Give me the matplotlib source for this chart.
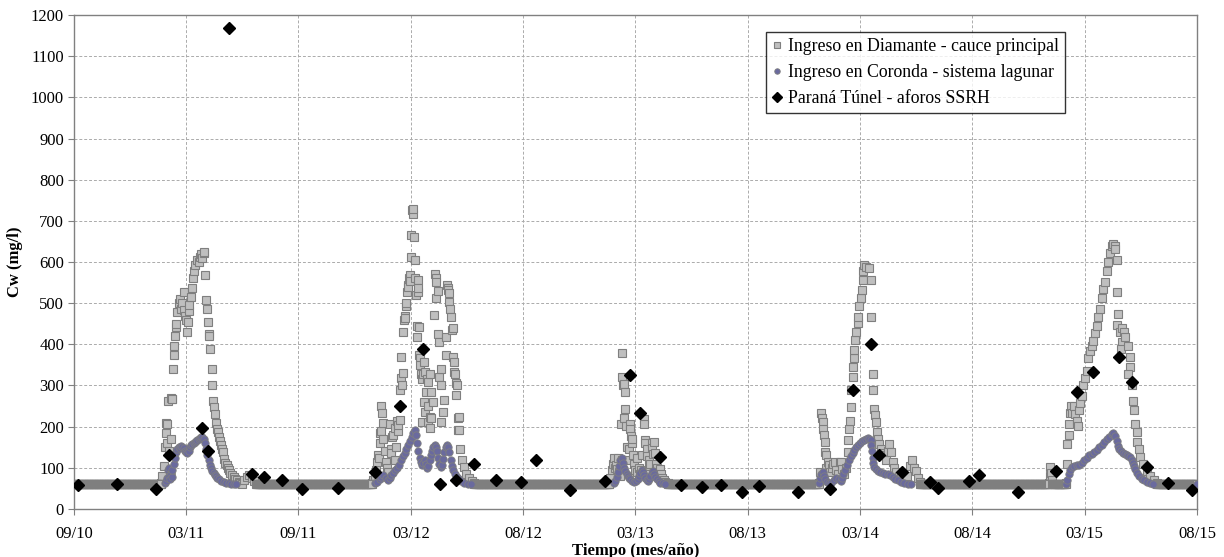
import numpy as np
import matplotlib
matplotlib.use("Agg")
import matplotlib.pyplot as plt

# Eje x en dias desde 09/10; cada marca del eje = 180 dias
etiquetas_x = ["09/10", "03/11", "09/11", "03/12", "08/12", "03/13",
               "08/13", "03/14", "08/14", "03/15", "08/15"]
paso_dias = 180

# Nivel base (mg/l) de Diamante fuera de las crecidas
base_cw = 60
base_tramos = [(0, 140), (292, 478), (642, 858), (952, 1194),
               (1356, 1562), (1568, 1590), (1736, 1800)]

# Ingreso en Diamante - cauce principal (dia, Cw)
diamante_2011 = [(140, 62), (142, 80), (144, 105), (146, 150), (147, 210), (148, 185), (149, 207),
                 (150, 160), (151, 263), (153, 140), (155, 170), (156, 270), (157, 266), (158, 268),
                 (159, 340), (160, 374), (161, 397), (162, 420), (163, 442), (164, 450), (166, 479),
                 (168, 500), (170, 511), (172, 487), (174, 500), (176, 483), (177, 528), (178, 470),
                 (180, 458), (182, 430), (183, 454), (184, 480), (185, 495), (187, 516), (189, 536),
                 (191, 560), (193, 577), (195, 593), (198, 605), (200, 600), (202, 613), (204, 620),
                 (206, 609), (208, 622), (209, 625), (211, 568), (212, 507), (214, 487), (215, 454),
                 (216, 425), (217, 421), (219, 389), (221, 339), (222, 300), (223, 263), (224, 247),
                 (226, 231), (228, 210), (229, 195), (231, 187), (233, 175), (234, 165), (236, 155),
                 (238, 145), (239, 138), (241, 122), (243, 112), (245, 106), (247, 100), (249, 94),
                 (251, 88), (253, 82), (256, 77), (259, 74), (262, 70), (264, 66), (267, 63),
                 (270, 61), (273, 70), (277, 78), (281, 82), (285, 76), (289, 68)]
diamante_2012 = [(478, 62), (480, 70), (482, 80), (484, 95), (486, 115), (488, 130), (489, 125),
                 (490, 160), (491, 185), (492, 190), (493, 250), (494, 232), (495, 210), (496, 170),
                 (498, 140), (500, 115), (502, 100), (504, 90), (506, 206), (508, 145), (509, 136),
                 (510, 175), (512, 180), (514, 120), (515, 197), (516, 150), (518, 214), (519, 190),
                 (520, 205), (522, 215), (523, 288), (524, 318), (525, 370), (526, 300), (527, 330),
                 (528, 431), (529, 460), (530, 470), (531, 465), (532, 492), (533, 500), (534, 526),
                 (535, 544), (536, 540), (537, 561), (538, 568), (539, 555), (540, 613), (541, 665),
                 (542, 726), (543, 717), (544, 730), (545, 661), (546, 605), (547, 560), (548, 520),
                 (550, 444), (550, 418), (551, 528), (551, 556), (552, 536), (553, 443), (553, 374),
                 (555, 366), (555, 349), (557, 329), (558, 317), (558, 212), (560, 327), (561, 357),
                 (561, 260), (562, 236), (563, 333), (564, 284), (566, 317), (567, 249), (568, 309),
                 (568, 212), (570, 223), (571, 329), (571, 196), (573, 285), (573, 220), (575, 260),
                 (577, 471), (579, 570), (580, 513), (581, 561), (581, 552), (583, 529), (584, 426),
                 (586, 406), (586, 321), (588, 341), (589, 301), (589, 212), (591, 236), (594, 264),
                 (596, 418), (596, 374), (598, 544), (599, 536), (600, 531), (601, 504), (602, 524),
                 (603, 487), (604, 467), (606, 435), (607, 370), (608, 440), (609, 357), (609, 333),
                 (611, 327), (612, 305), (613, 277), (614, 301), (615, 220), (615, 192), (617, 223),
                 (618, 193), (619, 145), (622, 119), (625, 101), (629, 84), (633, 75), (638, 67),
                 (642, 62)]
diamante_2013 = [(858, 62), (860, 75), (862, 95), (864, 110), (866, 123), (868, 100), (869, 108),
                 (871, 96), (872, 124), (874, 90), (875, 80), (877, 206), (878, 119), (879, 380),
                 (879, 320), (880, 300), (881, 222), (882, 304), (883, 243), (884, 284), (885, 202),
                 (887, 150), (888, 120), (890, 145), (891, 206), (892, 194), (893, 178), (894, 161),
                 (895, 169), (896, 130), (898, 110), (900, 95), (902, 90), (903, 124), (905, 100),
                 (907, 85), (909, 95), (911, 130), (913, 218), (914, 206), (915, 167), (916, 161),
                 (918, 145), (919, 129), (921, 120), (922, 104), (924, 110), (926, 161), (927, 149),
                 (928, 133), (930, 162), (931, 136), (933, 110), (935, 100), (937, 90), (939, 96),
                 (941, 84), (943, 76), (945, 71), (948, 66), (952, 62)]
diamante_2014 = [(1194, 62), (1196, 90), (1198, 232), (1199, 220), (1200, 211), (1201, 195),
                 (1202, 179), (1203, 163), (1204, 138), (1205, 130), (1206, 100), (1208, 114),
                 (1210, 106), (1212, 90), (1215, 100), (1217, 110), (1219, 114), (1222, 95),
                 (1225, 85), (1228, 114), (1229, 115), (1231, 98), (1234, 85), (1237, 100),
                 (1240, 138), (1241, 167), (1242, 195), (1244, 213), (1245, 248), (1246, 290),
                 (1248, 321), (1249, 346), (1250, 366), (1251, 386), (1252, 411), (1254, 431),
                 (1256, 451), (1257, 467), (1259, 492), (1261, 512), (1263, 533), (1264, 557),
                 (1265, 577), (1267, 593), (1270, 589), (1274, 585), (1277, 557), (1278, 467),
                 (1280, 329), (1281, 289), (1282, 244), (1284, 228), (1285, 211), (1287, 187),
                 (1288, 171), (1291, 159), (1294, 146), (1297, 135), (1299, 130), (1302, 120),
                 (1305, 140), (1307, 159), (1309, 138), (1312, 114), (1315, 100), (1318, 90),
                 (1322, 80), (1326, 75), (1330, 70), (1335, 80), (1340, 105), (1343, 119),
                 (1346, 100), (1349, 93), (1352, 75), (1356, 65)]
diamante_2015 = [(1562, 62), (1564, 80), (1565, 101), (1566, 88), (1568, 70), (1590, 62),
                 (1591, 110), (1592, 158), (1594, 180), (1595, 206), (1597, 232), (1598, 249),
                 (1600, 232), (1603, 249), (1605, 230), (1607, 214), (1609, 201), (1611, 240),
                 (1613, 258), (1616, 275), (1618, 301), (1621, 318), (1623, 336), (1626, 366),
                 (1628, 383), (1631, 396), (1634, 409), (1636, 427), (1639, 444), (1642, 466),
                 (1645, 487), (1648, 513), (1650, 535), (1653, 552), (1656, 578), (1658, 600),
                 (1661, 622), (1664, 639), (1666, 644), (1668, 640), (1669, 631), (1671, 604),
                 (1672, 526), (1674, 474), (1672, 448), (1676, 431), (1680, 440), (1683, 431),
                 (1680, 405), (1685, 418), (1678, 388), (1690, 396), (1692, 370), (1692, 344),
                 (1690, 327), (1696, 301), (1698, 262), (1699, 240), (1701, 206), (1703, 188),
                 (1704, 162), (1707, 145), (1709, 127), (1714, 110), (1720, 93), (1725, 80),
                 (1731, 71), (1736, 64)]

# Ingreso en Coronda - sistema lagunar (dia, Cw)
coronda_2011 = [(146, 62), (148, 68), (150, 75), (151, 95), (152, 80), (153, 100), (154, 72),
                (155, 88), (156, 85), (157, 78), (158, 95), (160, 110), (162, 125), (164, 138),
                (166, 145), (168, 150), (170, 148), (172, 152), (174, 150), (176, 148), (178, 140),
                (180, 138), (182, 135), (184, 142), (186, 150), (188, 155), (190, 158), (192, 160),
                (194, 163), (196, 166), (198, 168), (200, 170), (202, 172), (204, 174), (206, 175),
                (208, 170), (210, 160), (212, 145), (214, 130), (216, 118), (218, 108), (220, 100),
                (222, 93), (224, 88), (226, 83), (228, 79), (230, 76), (233, 72), (236, 69),
                (240, 66), (244, 64), (248, 62), (252, 61), (256, 60), (260, 60)]
coronda_2012 = [(482, 62), (486, 66), (490, 72), (493, 78), (496, 82), (500, 76), (503, 70),
                (506, 75), (509, 82), (512, 88), (515, 95), (518, 100), (521, 108), (524, 118),
                (527, 128), (530, 137), (533, 146), (536, 155), (539, 165), (542, 175), (544, 185),
                (546, 193), (548, 180), (550, 160), (552, 140), (554, 125), (556, 115), (558, 108),
                (560, 112), (562, 120), (564, 110), (566, 100), (568, 105), (570, 118), (572, 130),
                (574, 142), (576, 150), (578, 155), (580, 150), (582, 140), (584, 125), (586, 110),
                (588, 102), (590, 108), (592, 122), (594, 138), (596, 150), (598, 155), (600, 150),
                (602, 138), (604, 120), (606, 105), (608, 95), (611, 85), (614, 78), (617, 72),
                (621, 67), (626, 63), (631, 61), (637, 60)]
coronda_2013 = [(866, 62), (868, 68), (870, 78), (872, 90), (874, 105), (876, 118), (878, 125),
                (880, 112), (882, 100), (884, 92), (886, 86), (888, 80), (890, 76), (892, 72),
                (895, 68), (898, 66), (901, 68), (904, 72), (906, 80), (908, 88), (910, 94),
                (912, 90), (914, 82), (916, 75), (918, 70), (920, 68), (922, 72), (924, 80),
                (926, 90), (928, 93), (930, 85), (932, 78), (934, 72), (937, 67), (940, 64),
                (944, 62), (948, 60)]
coronda_2014 = [(1194, 62), (1196, 75), (1198, 84), (1200, 90), (1202, 80), (1204, 72), (1207, 66),
                (1210, 62), (1214, 64), (1218, 70), (1222, 75), (1226, 72), (1229, 68), (1231, 75),
                (1233, 84), (1236, 95), (1239, 108), (1242, 118), (1245, 128), (1248, 136),
                (1251, 144), (1254, 150), (1257, 156), (1260, 161), (1263, 165), (1266, 168),
                (1269, 171), (1272, 172), (1275, 170), (1277, 167), (1278, 155), (1279, 140),
                (1280, 125), (1281, 112), (1283, 103), (1286, 96), (1289, 92), (1292, 90),
                (1296, 87), (1300, 85), (1304, 84), (1308, 82), (1312, 78), (1316, 74), (1320, 70),
                (1325, 66), (1330, 63), (1336, 61), (1342, 60)]
coronda_2015 = [(1590, 60), (1592, 70), (1594, 84), (1597, 95), (1600, 101), (1603, 104),
                (1607, 106), (1611, 108), (1615, 112), (1619, 118), (1623, 125), (1627, 130),
                (1631, 133), (1635, 138), (1639, 144), (1643, 150), (1647, 156), (1651, 163),
                (1655, 170), (1659, 176), (1663, 182), (1666, 185), (1669, 178), (1671, 165),
                (1673, 152), (1675, 145), (1678, 140), (1681, 136), (1684, 133), (1687, 130),
                (1690, 128), (1693, 126), (1695, 120), (1697, 112), (1699, 104), (1701, 96),
                (1704, 88), (1707, 80), (1711, 74), (1715, 70), (1720, 66), (1725, 62),
                (1730, 60), (1800, 60)]

# Parana Tunel - aforos SSRH
tunel_dias = [7, 69, 131, 152, 205, 215, 249, 285, 304, 333, 366, 424, 483, 523, 559, 587,
              612, 642, 676, 717, 740, 795, 851, 892, 907, 939, 973, 1007, 1037, 1071, 1098,
              1160, 1211, 1249, 1278, 1291, 1327, 1372, 1385, 1435, 1451, 1513, 1574, 1608,
              1633, 1675, 1696, 1720, 1754, 1792]
tunel_cw = [58, 60, 49, 132, 197, 140, 1168, 86, 78, 71, 49, 51, 91, 249, 388, 60,
            71, 110, 71, 65, 119, 45, 67, 325, 233, 127, 58, 53, 58, 42, 56,
            42, 49, 290, 401, 132, 91, 65, 52, 67, 82, 41, 93, 284, 334,
            369, 308, 103, 62, 45]


def juntar(eventos, con_base=False):
    pares = []
    for ev in eventos:
        pares += ev
    x = [p[0] for p in pares]
    y = [p[1] for p in pares]
    if con_base:
        # tramos sin crecida: registro diario en el nivel base
        for a, b in base_tramos:
            dias = np.arange(a, b + 1, 1)
            x += list(dias)
            y += [base_cw] * len(dias)
    return np.array(x), np.array(y)


plt.rcParams['font.family'] = ['Liberation Serif', 'DejaVu Serif']

fig = plt.figure(figsize=(12.24, 5.57), dpi=100)
ax = fig.add_axes([0.0603, 0.0862, 0.9177, 0.8868])

xd, yd = juntar([diamante_2011, diamante_2012, diamante_2013, diamante_2014, diamante_2015], True)
xc, yc = juntar([coronda_2011, coronda_2012, coronda_2013, coronda_2014, coronda_2015])

ax.plot(xd, yd, ls='none', marker='s', ms=5.8, mfc='#BFBFBF', mec='#7F7F7F', mew=0.8,
        label='Ingreso en Diamante - cauce principal', zorder=3)
ax.plot(xc, yc, ls='none', marker='o', ms=5.3, mfc='#6A6A9E', mec='#7F7F7F', mew=0.6,
        label='Ingreso en Coronda - sistema lagunar', zorder=4)
ax.plot(tunel_dias, tunel_cw, ls='none', marker='D', ms=6.3, mfc='black', mec='black',
        label='Paraná Túnel - aforos SSRH', zorder=5)

ax.set_xlim(0, paso_dias * (len(etiquetas_x) - 1))
ax.set_ylim(0, 1200)
ax.set_xticks(np.arange(len(etiquetas_x)) * paso_dias)
ax.set_xticklabels(etiquetas_x)
ax.set_yticks(np.arange(0, 1201, 100))

ax.grid(True, color='#ABABAB', linestyle=(0, (3, 2)), linewidth=0.7, zorder=0)
ax.set_axisbelow(True)
for s in ax.spines.values():
    s.set_color('#808080')
    s.set_linewidth(1.0)
ax.tick_params(axis='both', direction='out', length=4, color='#808080', labelsize=12)
ax.tick_params(axis='x', pad=8)
ax.tick_params(axis='y', pad=3)

ax.set_ylabel('Cw (mg/l)', fontsize=12, fontweight='bold')
ax.yaxis.set_label_coords(-0.045, 0.5)
ax.set_xlabel('Tiempo (mes/año)', fontsize=12, fontweight='bold')
ax.xaxis.set_label_coords(0.5, -0.068)

leg = ax.legend(loc='upper left', bbox_to_anchor=(0.616, 0.966), borderaxespad=0,
                fontsize=12.8, frameon=True, fancybox=False, edgecolor='black',
                handlelength=0.6, handletextpad=0.3, labelspacing=0.5,
                borderpad=0.35, markerscale=0.75)
leg.get_frame().set_linewidth(1.0)

fig.savefig('out.png', dpi=100)
